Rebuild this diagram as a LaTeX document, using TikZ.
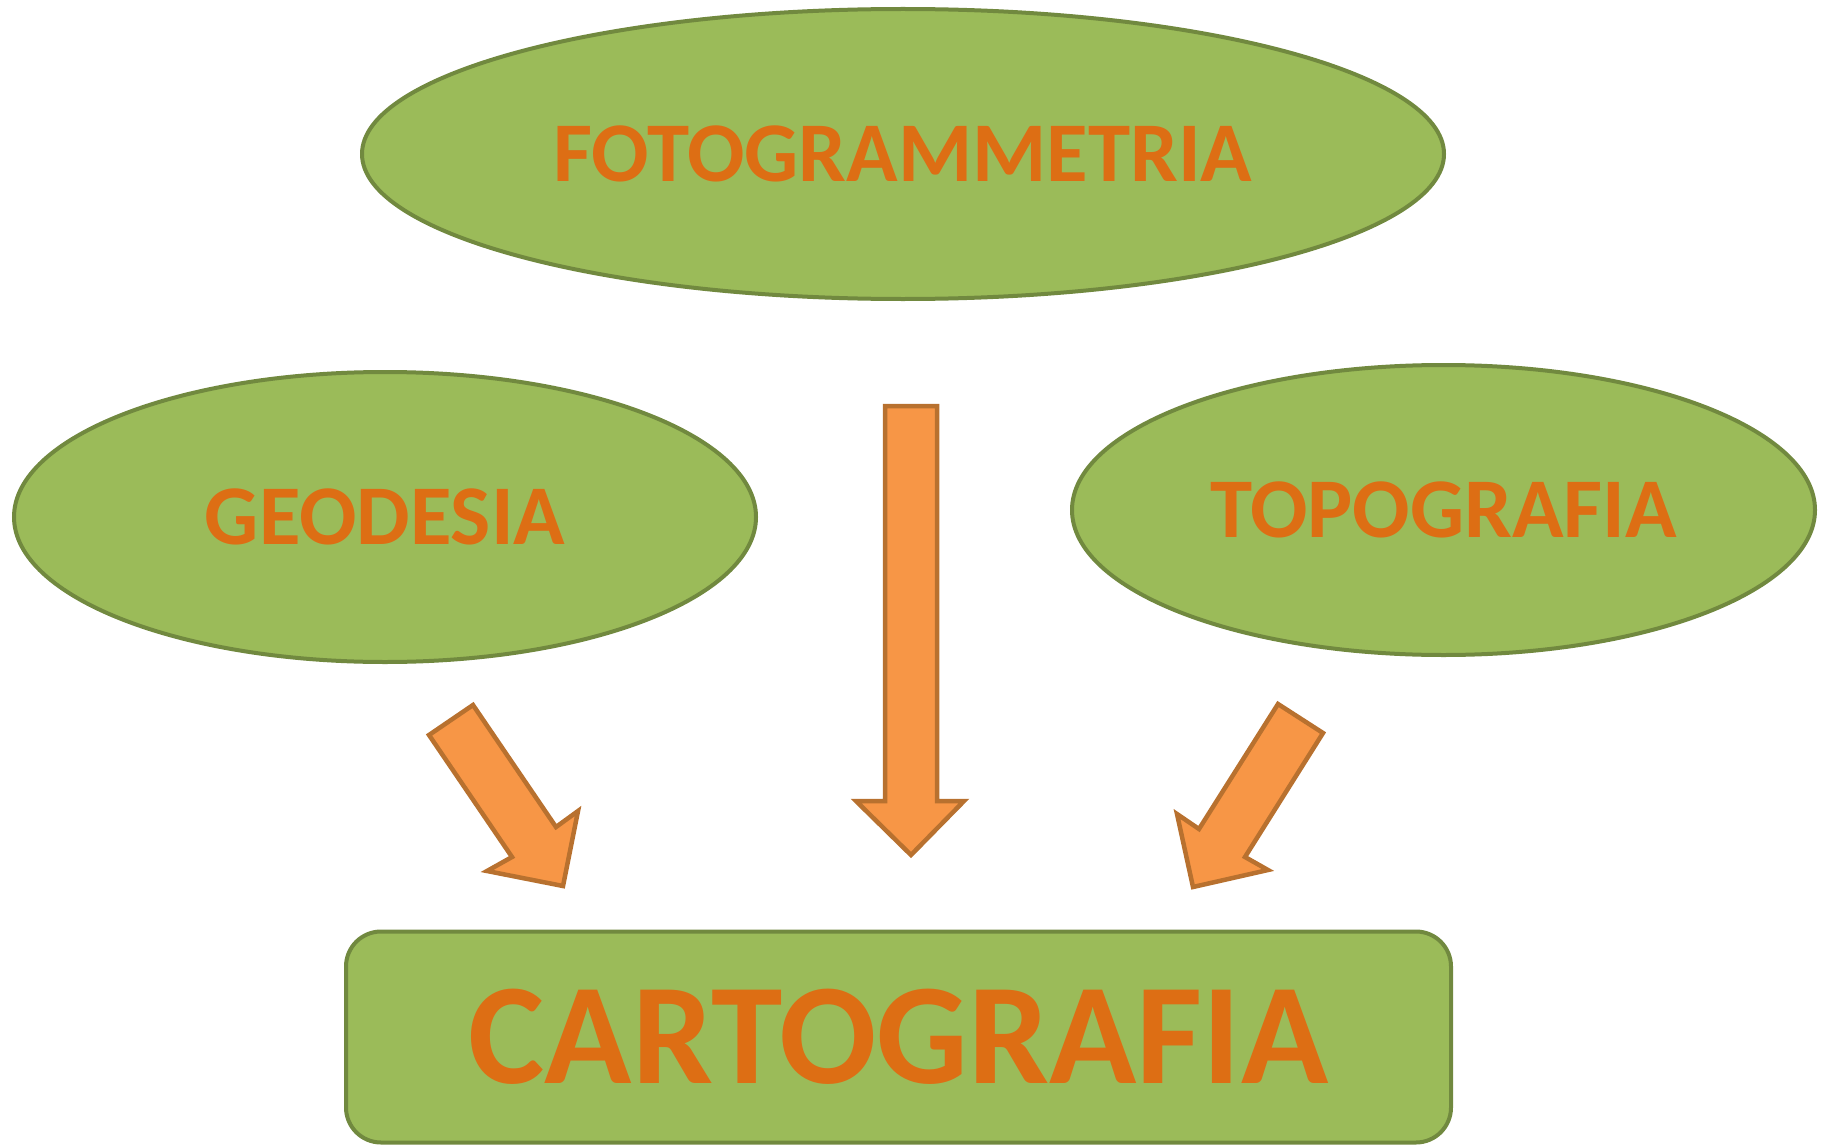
\documentclass[tikz,border=0pt]{standalone}
\usepackage{fontspec}
\setmainfont{Carlito}
\usetikzlibrary{shapes.geometric}
\definecolor{olivefill}{HTML}{9BBB59}
\definecolor{olivedraw}{HTML}{71893F}
\definecolor{arrowfill}{HTML}{F79646}
\definecolor{arrowdraw}{HTML}{B8712F}
\definecolor{labeltext}{HTML}{DD6E14}
\tikzset{
  oval/.style={ellipse, fill=olivefill, draw=olivedraw, line width=4pt, inner sep=0pt,
    text=labeltext, font=\fontsize{85}{90}\selectfont\bfseries},
  mainbox/.style={rectangle, rounded corners=35pt, fill=olivefill, draw=olivedraw, line width=4pt,
    inner sep=0pt, text=labeltext, font=\fontsize{144}{150}\selectfont\bfseries},
  blockarrow/.style={fill=arrowfill, draw=arrowdraw, line width=4.5pt, line join=miter}
}
\begin{document}
\begin{tikzpicture}[x=1pt,y=-1pt]
\useasboundingbox (0,0) rectangle (1823,1145);
\node[oval, minimum width=1082pt, minimum height=290pt] (foto) at (903,154) {FOTOGRAMMETRIA};
\node[oval, minimum width=742pt, minimum height=290pt] (geo) at (385,517) {GEODESIA};
\node[oval, minimum width=743pt, minimum height=290pt] (topo) at (1443.5,510) {TOPOGRAFIA};
\node[mainbox, minimum width=1105pt, minimum height=211pt] (carto) at (898.5,1037) {CARTOGRAFIA};
% central arrow
\draw[blockarrow] (885,406) -- (937,406) -- (937,801) -- (964,801) -- (911,855) -- (856,801) -- (885,801) -- cycle;
% left arrow
\draw[blockarrow] (429,735) -- (473,705) -- (556,827) -- (578,811) -- (563,886) -- (487,871) -- (512,857) -- cycle;
% right arrow
\draw[blockarrow] (1278,704) -- (1323,733) -- (1245,857) -- (1268,870) -- (1193,887) -- (1177,814) -- (1199,829) -- cycle;
\end{tikzpicture}
\end{document}
